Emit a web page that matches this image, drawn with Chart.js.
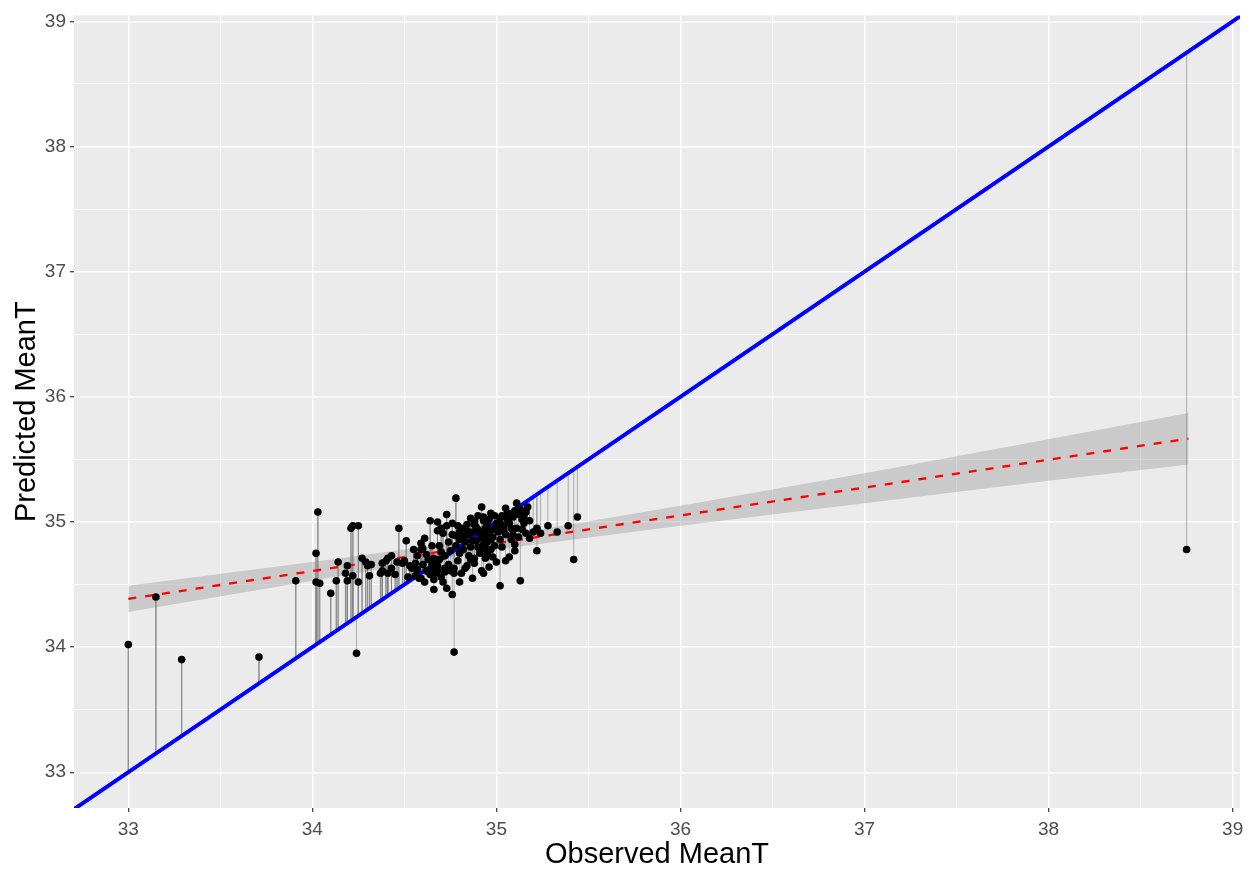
<!DOCTYPE html>
<html>
<head>
<meta charset="utf-8">
<script src="https://cdn.jsdelivr.net/npm/chart.js@4.4.0/dist/chart.umd.min.js"></script>
<style>
  html, body { margin: 0; padding: 0; background: #ffffff; }
</style>
</head>
<body>
<canvas id="myChart" width="1253" height="869"></canvas>
<script>
// observed vs predicted MeanT
var observed = [
  33.00, 33.15, 33.29, 33.71, 33.91, 38.75, 34.03, 34.02, 34.02, 34.04,
  34.10, 34.13, 34.14, 34.19, 34.18, 34.19, 34.21, 34.22, 34.25, 34.22,
  34.25, 34.24, 34.27, 34.29, 34.30, 34.31, 34.32, 34.37, 34.38, 34.38,
  34.41, 34.78, 34.47, 34.51, 34.43, 34.40, 34.46, 34.49, 34.43, 34.41,
  34.45, 34.52, 34.59, 34.54, 34.56, 34.55, 34.59, 34.59, 34.61, 34.60,
  34.62, 34.65, 34.66, 34.64, 34.68, 34.68, 34.71, 34.73, 34.73, 34.76,
  34.69, 34.70, 34.68, 34.65, 34.63, 34.67, 34.66, 34.66, 34.71, 34.73,
  34.76, 34.72, 34.75, 34.77, 34.77, 34.80, 34.77, 34.75, 34.78, 34.80,
  34.83, 34.81, 34.84, 34.86, 34.88, 34.92, 34.90, 34.85, 34.88, 34.84,
  34.92, 34.88, 34.91, 34.94, 34.91, 34.89, 35.05, 35.11, 35.13, 35.18,
  35.14, 35.11, 35.02, 35.00, 34.93, 34.94, 34.96, 35.03, 35.05, 35.02,
  34.99, 34.93, 34.95, 34.94, 35.00, 35.05, 35.07, 35.10, 35.10, 35.09,
  34.93, 35.02, 35.13, 35.18, 35.22, 35.24, 35.22, 35.28, 35.33, 35.39,
  35.44, 35.42, 34.50, 34.53, 34.56, 34.58, 34.62, 34.68, 34.68, 34.82,
  34.86, 34.87, 34.89, 34.95, 34.97, 34.98, 35.01, 35.04, 35.06, 35.08,
  34.97, 34.90, 34.83, 34.80, 34.86, 34.98, 35.03, 35.08, 34.74, 34.72,
  34.79, 34.83, 34.96, 35.12, 35.15, 35.16, 35.06, 34.99, 34.96, 34.85,
  34.92, 34.70, 34.76, 34.79, 35.20, 35.12, 34.81, 34.87, 34.63, 34.57,
  34.57, 34.60, 34.64, 34.66, 34.70, 34.72, 34.74, 34.69, 34.61, 34.87,
  34.90, 34.93, 34.95, 34.98, 35.00, 35.02, 35.04, 34.88, 34.84, 34.82,
  34.91, 34.94, 35.07, 35.09, 35.03, 34.97, 34.93, 34.80, 34.78, 35.14,
  35.16, 35.10, 35.17, 35.15
];
var predicted = [
  34.02, 34.40, 33.90, 33.92, 34.53, 34.78, 35.08, 34.75, 34.52, 34.51,
  34.43, 34.53, 34.68, 34.65, 34.59, 34.53, 34.95, 34.97, 34.97, 34.57,
  34.52, 33.95, 34.71, 34.68, 34.65, 34.57, 34.66, 34.59, 34.61, 34.67,
  34.71, 35.19, 34.95, 34.85, 34.73, 34.69, 34.68, 34.67, 34.63, 34.59,
  34.58, 34.56, 34.55, 34.63, 34.67, 34.78, 34.78, 34.83, 34.87, 34.79,
  34.74, 34.81, 34.71, 35.01, 35.00, 34.93, 34.91, 35.06, 34.97, 34.99,
  34.81, 34.76, 34.69, 34.66, 34.60, 34.59, 34.54, 34.46, 34.52, 34.47,
  34.42, 34.63, 34.61, 34.59, 34.63, 34.52, 33.96, 34.77, 34.81, 34.86,
  34.89, 34.95, 34.98, 35.03, 35.01, 35.12, 35.05, 34.73, 34.67, 34.65,
  34.61, 34.71, 34.75, 34.89, 34.91, 34.85, 35.11, 35.15, 35.10, 35.01,
  35.02, 34.95, 35.03, 34.99, 35.01, 34.95, 34.91, 34.94, 34.90, 34.86,
  34.81, 34.82, 34.75, 34.71, 34.68, 34.69, 34.72, 34.77, 34.82, 34.90,
  34.59, 34.49, 34.53, 34.87, 34.95, 34.91, 34.77, 34.97, 34.92, 34.97,
  35.04, 34.70, 34.69, 34.65, 34.57, 34.55, 34.61, 34.65, 34.61, 34.78,
  34.80, 34.92, 34.96, 34.98, 34.86, 34.94, 34.92, 34.97, 35.02, 34.95,
  34.78, 34.80, 34.84, 34.75, 34.70, 34.72, 34.80, 34.86, 34.84, 34.73,
  34.69, 34.63, 34.64, 35.06, 34.99, 35.08, 35.07, 35.05, 35.02, 34.90,
  34.87, 34.95, 34.90, 34.97, 34.92, 34.88, 34.59, 34.55, 34.70, 34.73,
  34.62, 34.66, 34.58, 34.62, 34.56, 34.60, 34.66, 34.70, 34.52, 34.85,
  34.94, 34.90, 34.84, 34.88, 34.96, 34.99, 34.93, 34.98, 34.93, 34.88,
  34.78, 34.79, 34.99, 35.04, 35.05, 35.07, 35.04, 34.92, 34.89, 34.94,
  34.91, 35.09, 35.12, 35.05
];

// dashed fit line and its grey band
var fitX = [33.00, 38.76];
var fitY = [34.385, 35.666];
var bandX = [33.00, 34.00, 35.00, 36.00, 37.00, 38.00, 38.76];
var bandLow = [34.28, 34.53, 34.78, 34.97, 35.15, 35.33, 35.46];
var bandHigh = [34.49, 34.68, 34.88, 35.13, 35.39, 35.66, 35.87];

// 1:1 line ends and axis ticks
var refLine = [32.70, 39.05];
var gridValues = [33, 33.5, 34, 34.5, 35, 35.5, 36, 36.5, 37, 37.5, 38, 38.5, 39];

var ctx = document.getElementById('myChart');

function isMajor(v) { return Math.abs(v - Math.round(v)) < 1e-6; }

var panelBg = {
  id: 'panelBg',
  beforeDraw: function(chart) {
    var a = chart.chartArea;
    var c = chart.ctx;
    c.save();
    c.fillStyle = '#EBEBEB';
    c.fillRect(a.left, a.top, a.right - a.left, a.bottom - a.top);
    c.restore();
  }
};

var points = observed.map(function(v, i) { return { x: v, y: predicted[i] }; });

var segs = [];
for (var i = 0; i < observed.length; i++) {
  segs.push({ x: observed[i], y: predicted[i] });
  segs.push({ x: observed[i], y: observed[i] });
  segs.push({ x: observed[i], y: null });
}

function gridOpts() {
  return {
    color: '#FFFFFF',
    lineWidth: function(c) { return c.tick && isMajor(c.tick.value) ? 1.4 : 0.7; },
    tickColor: function(c) { return c.tick && isMajor(c.tick.value) ? '#333333' : 'rgba(0,0,0,0)'; },
    tickWidth: 1.2,
    tickLength: 4,
    drawTicks: true
  };
}

function tickOpts(pad) {
  return {
    autoSkip: false,
    maxRotation: 0,
    padding: pad,
    color: '#4D4D4D',
    font: { family: 'Liberation Sans', size: 19 },
    callback: function(v) { return isMajor(v) ? String(Math.round(v)) : ''; }
  };
}

var myChart = new Chart(ctx, {
  type: 'scatter',
  data: {
    datasets: [
      {
        label: 'points',
        data: points,
        pointRadius: 3.8,
        pointBackgroundColor: '#000000',
        pointBorderWidth: 0,
        showLine: false,
        order: 0
      },
      {
        label: 'one to one',
        data: [{ x: refLine[0], y: refLine[0] }, { x: refLine[1], y: refLine[1] }],
        showLine: true,
        borderColor: '#0000FF',
        borderWidth: 4,
        pointRadius: 0,
        clip: 0,
        order: 1
      },
      {
        label: 'fit',
        data: fitX.map(function(v, i) { return { x: v, y: fitY[i] }; }),
        showLine: true,
        borderColor: '#FF0000',
        borderWidth: 2.3,
        borderDash: [8, 9],
        pointRadius: 0,
        order: 2
      },
      {
        label: 'residuals',
        data: segs,
        showLine: true,
        spanGaps: false,
        borderColor: 'rgba(128,128,128,0.6)',
        borderWidth: 1,
        pointRadius: 0,
        order: 3
      },
      {
        label: 'band high',
        data: bandX.map(function(v, i) { return { x: v, y: bandHigh[i] }; }),
        showLine: true,
        borderWidth: 0,
        borderColor: 'rgba(0,0,0,0)',
        backgroundColor: 'rgba(153,153,153,0.4)',
        fill: '+1',
        pointRadius: 0,
        order: 4
      },
      {
        label: 'band low',
        data: bandX.map(function(v, i) { return { x: v, y: bandLow[i] }; }),
        showLine: true,
        borderWidth: 0,
        borderColor: 'rgba(0,0,0,0)',
        pointRadius: 0,
        order: 5
      }
    ]
  },
  options: {
    responsive: false,
    animation: false,
    layout: { padding: { left: 0, right: 13, top: 12, bottom: 0 } },
    plugins: {
      legend: { display: false },
      tooltip: { enabled: false }
    },
    scales: {
      x: {
        type: 'linear',
        min: 32.705,
        max: 39.04,
        afterBuildTicks: function(s) { s.ticks = gridValues.map(function(v) { return { value: v }; }); },
        afterFit: function(s) { s.height = 61; },
        grid: gridOpts(),
        border: { display: false },
        ticks: tickOpts(6),
        title: {
          display: true,
          text: 'Observed MeanT',
          color: '#000000',
          font: { family: 'Liberation Sans', size: 29, lineHeight: 1 },
          padding: 0
        }
      },
      y: {
        type: 'linear',
        min: 32.714,
        max: 39.048,
        afterBuildTicks: function(s) { s.ticks = gridValues.map(function(v) { return { value: v }; }); },
        afterFit: function(s) { s.width = 74; },
        grid: gridOpts(),
        border: { display: false },
        ticks: tickOpts(4),
        title: {
          display: true,
          text: 'Predicted MeanT',
          color: '#000000',
          font: { family: 'Liberation Sans', size: 29, lineHeight: 1 },
          padding: { top: 12, bottom: 0 }
        }
      }
    }
  },
  plugins: [panelBg]
});
</script>
</body>
</html>
